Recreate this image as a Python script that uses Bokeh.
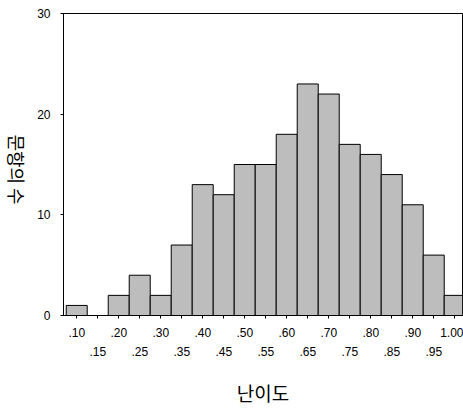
import math
from bokeh.plotting import figure
from bokeh.layouts import row
from bokeh.models import FixedTicker, LinearAxis, Range1d
from bokeh.core.properties import value
from bokeh.embed import file_html
from bokeh.resources import INLINE

# ---- data ----
bin_labels = [".10", ".15", ".20", ".25", ".30", ".35", ".40", ".45", ".50", ".55",
              ".60", ".65", ".70", ".75", ".80", ".85", ".90", ".95", "1.00"]
counts = [1, 0, 2, 4, 2, 7, 13, 12, 15, 15, 18, 23, 22, 17, 16, 14, 11, 6, 2]
y_ticks = [0, 10, 20, 30]
x_title = "난이도"
y_title = "문항의 수"

pos = list(range(len(bin_labels)))
row2 = [i for i in pos if i % 2 == 1]

yr = Range1d(0, 30)

# ---- narrow panel holding the clockwise-rotated y title ----
t = figure(width=32, height=408, output_backend="svg", toolbar_location=None,
           x_range=Range1d(0, 1), y_range=yr, min_border=0,
           min_border_top=13, min_border_bottom=90)
t.axis.visible = False
t.grid.visible = False
t.outline_line_color = None
t.background_fill_color = "white"
t.border_fill_color = "white"
t.text(x=[0.5], y=[(y_ticks[0] + y_ticks[-1]) / 2 - 0.5], text=[y_title],
       angle=-math.pi / 2, text_align="center", text_baseline="middle",
       text_font=value("Noto Sans CJK KR"), text_font_size="18px",
       text_color="black")

# ---- main histogram ----
p = figure(width=431, height=408, output_backend="svg", toolbar_location=None,
           x_range=Range1d(-0.63, 18.37), y_range=yr,
           min_border_left=31, min_border_right=1, min_border_top=13,
           min_border_bottom=90)
p.background_fill_color = "white"
p.border_fill_color = "white"
p.outline_line_color = "black"
p.outline_line_width = 1
p.grid.visible = False

p.vbar(x=pos, top=counts, bottom=0, width=1.0, fill_color="#bdbdbd",
       line_color="black", line_width=1)

font = "Liberation Sans"

# y axis
ya = p.yaxis[0]
ya.ticker = FixedTicker(ticks=y_ticks)
ya.minor_tick_line_color = None
ya.major_tick_out = 3
ya.major_tick_in = 0
ya.major_label_standoff = 10
ya.major_label_text_font = font
ya.major_label_text_font_size = "12px"
ya.major_label_text_color = "black"
ya.axis_line_color = "black"

# x axis row 1 (all ticks, labels on even bins)
xa = p.xaxis[0]
xa.ticker = FixedTicker(ticks=pos)
xa.major_label_overrides = {i: (bin_labels[i] if i % 2 == 0 else "") for i in pos}
xa.minor_tick_line_color = None
xa.major_tick_out = 3
xa.major_tick_in = 0
xa.major_label_standoff = 9
xa.major_label_text_font = font
xa.major_label_text_font_size = "12px"
xa.major_label_text_color = "black"

# x axis row 2 (odd bins)
xa2 = LinearAxis(ticker=FixedTicker(ticks=row2),
                 major_label_overrides={i: bin_labels[i] for i in row2})
xa2.axis_line_color = None
xa2.major_tick_line_color = None
xa2.minor_tick_line_color = None
xa2.major_tick_out = 0
xa2.major_tick_in = 0
xa2.major_label_standoff = 7
xa2.major_label_text_font = font
xa2.major_label_text_font_size = "12px"
xa2.major_label_text_color = "black"
xa2.axis_label = x_title
xa2.axis_label_standoff = 20
xa2.axis_label_text_font = "Noto Sans CJK KR"
xa2.axis_label_text_font_size = "19px"
xa2.axis_label_text_font_style = "normal"
xa2.axis_label_text_color = "black"
p.add_layout(xa2, "below")

layout = row(t, p, spacing=0)
open("out.html", "w").write(file_html(layout, INLINE))
